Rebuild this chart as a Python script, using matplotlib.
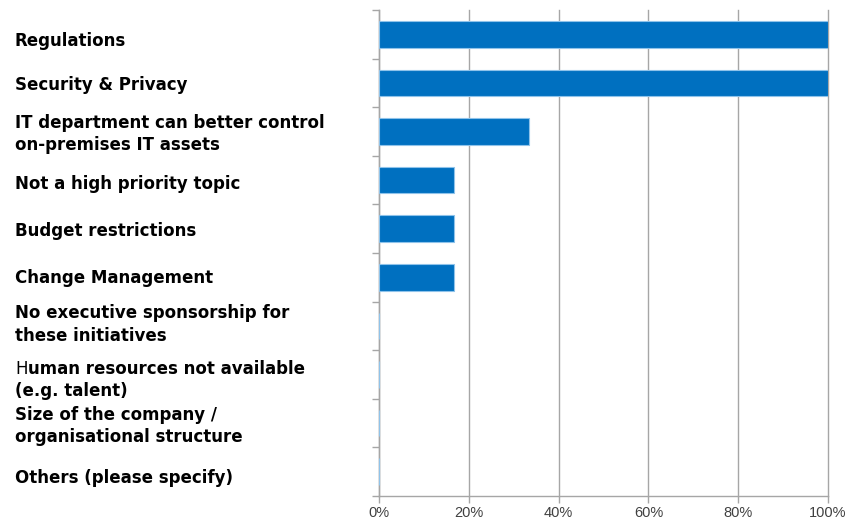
import numpy as np
import matplotlib.pyplot as plt
from matplotlib.ticker import FixedLocator, PercentFormatter
import matplotlib.transforms as mtransforms

# survey: reasons holding back cloud adoption (share of respondents)
reasons = [
    "Regulations",
    "Security & Privacy",
    "IT department can better control\non-premises IT assets",
    "Not a high priority topic",
    "Budget restrictions",
    "Change Management",
    "No executive sponsorship for\nthese initiatives",
    "Human resources not available\n(e.g. talent)",
    "Size of the company /\norganisational structure",
    "Others (please specify)",
]
share = [100.0, 100.0, 33.3, 16.7, 16.7, 16.7, 0.0, 0.0, 0.0, 0.0]

# small vertical nudges (pixels, downwards) for the label blocks
label_nudge = [6, 1, 2, 3, 2, 0, -2, 5, 2, 6]

plt.rcParams['font.family'] = ['DejaVu Sans']

W, H = 853, 523
fig = plt.figure(figsize=(W / 100, H / 100), dpi=100)
ax = fig.add_axes([379 / W, 1 - 496 / H, 449 / W, 486 / H])

y = np.arange(len(reasons))
ax.barh(y, share, height=0.55, color='#0070c0', edgecolor='#8fc3ea', linewidth=0.8, zorder=3)

ax.set_xlim(0, 100)
ax.set_ylim(len(reasons) - 0.5, -0.5)

ax.xaxis.set_major_locator(FixedLocator([0, 20, 40, 60, 80, 100]))
ax.xaxis.set_major_formatter(PercentFormatter(decimals=0))
ax.grid(axis='x', color='#a6a6a6', linewidth=1, zorder=0)
for gl in ax.get_xgridlines():
    gl.set_clip_on(False)  # keep the 100% line fully visible at the edge

ax.set_yticks([])
ax.yaxis.set_minor_locator(FixedLocator(np.arange(-0.5, len(reasons), 1)))
ax.tick_params(axis='y', which='minor', length=5, color='#a6a6a6', width=1)
ax.tick_params(axis='x', length=5, color='#a6a6a6', width=1, pad=2)
for lab in ax.get_xticklabels():
    lab.set_family(['Liberation Sans'])
    lab.set_fontsize(10.5)
    lab.set_color('#404040')

for side in ['top', 'right']:
    ax.spines[side].set_visible(False)
for side in ['left', 'bottom']:
    ax.spines[side].set_color('#a6a6a6')
    ax.spines[side].set_linewidth(1)

# category labels, one text per line so lines sit on fixed baselines
trans = mtransforms.blended_transform_factory(fig.transFigure, ax.transData)
x0 = 15 / W
pitch = 22.5
cap = 11.5
fs = 12
renderer = fig.canvas.get_renderer()

for i, label in enumerate(reasons):
    lines = label.split("\n")
    n = len(lines)
    for k, line in enumerate(lines):
        dy = -(label_nudge[i] + cap / 2 + (k - (n - 1) / 2) * pitch)
        dx = 0
        if line.startswith("Human"):
            # the leading capital is set in regular weight
            h = ax.annotate("H", xy=(x0, i), xycoords=trans, xytext=(0, dy),
                            textcoords='offset pixels', ha='left', va='baseline',
                            fontsize=fs, fontweight='normal', color='black')
            dx = h.get_window_extent(renderer).width
            line = line[1:]
        ax.annotate(line, xy=(x0, i), xycoords=trans, xytext=(dx, dy),
                    textcoords='offset pixels', ha='left', va='baseline',
                    fontsize=fs, fontweight='bold', color='black')

fig.savefig('out.png', dpi=100)
